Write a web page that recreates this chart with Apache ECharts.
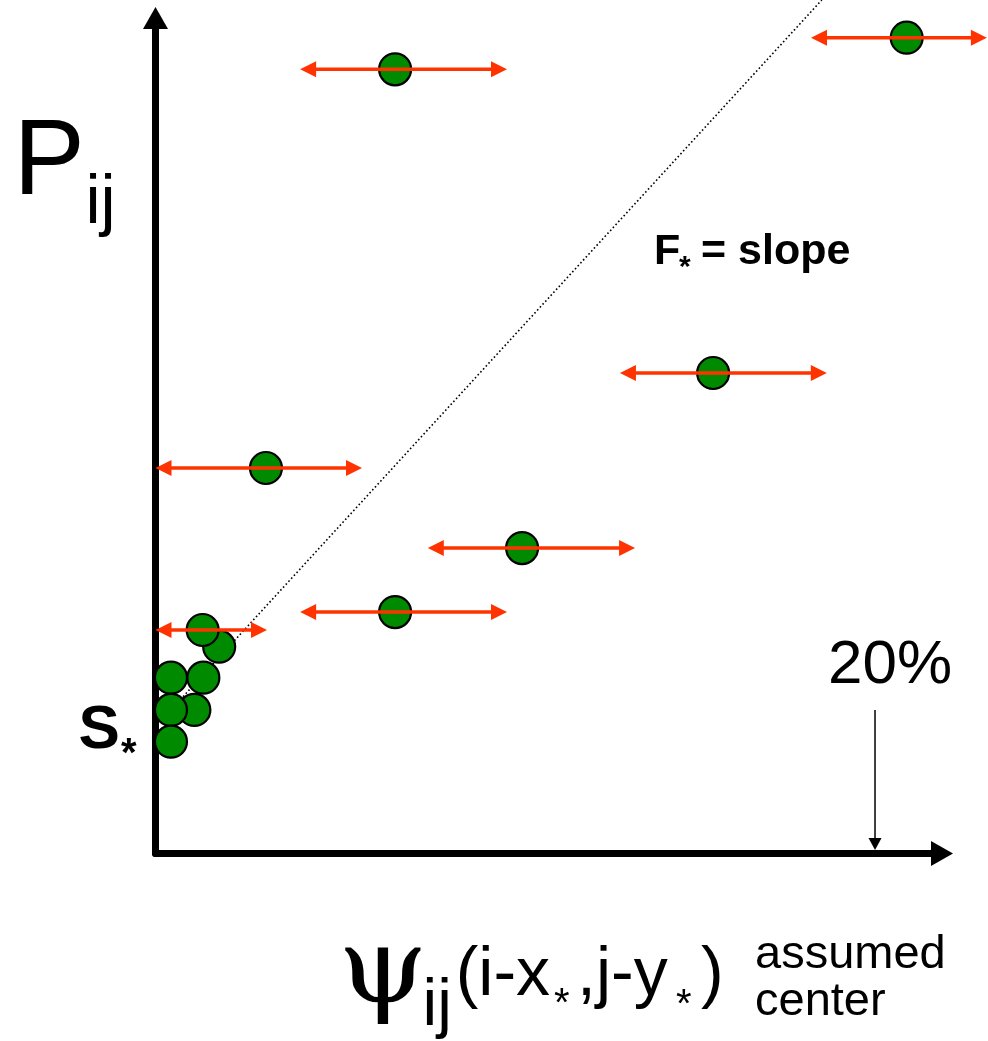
<!DOCTYPE html>
<html><head><meta charset="utf-8">
<script src="https://cdn.jsdelivr.net/npm/echarts@6/dist/echarts.min.js"></script>
<style>html,body{margin:0;padding:0;background:#fff}#c{width:988px;height:1041px}</style>
</head><body><div id="c"></div>
<script>
// ---- data (x in %, y in arbitrary P units) ----
// points carrying horizontal uncertainty arrows
const arrowX    = [6.66, 20.88, 15.50, 3.07, 10.19, 6.66, 1.31];
const arrowY    = [93.86, 97.64, 57.51, 46.14, 36.56, 28.90, 26.75];
const arrowLow  = [4.02, 18.22, 12.91, 0.00, 7.57, 4.02, 0.00];
const arrowHigh = [9.77, 23.11, 18.66, 5.74, 13.33, 9.77, 3.10];
// clustered points near the origin (no arrows)
const clusterX = [1.77, 0.43, 1.33, 1.08, 0.43, 0.43];
const clusterY = [24.75, 21.04, 21.04, 17.18, 17.18, 13.38];
// dotted slope line
const slopeX = [0.54, 18.52];
const slopeY = [17.71, 102.15];
// 20% marker
const markerX = [20];
const markerTop = [17.18];
const markerBottom = [0.42];
const xMax = 21.862, yMax = 100;

const RED = '#ff3300', GREEN = '#008a00';
const SANS = "'Liberation Sans', Arial, Helvetica, sans-serif";
const SERIF = "'DejaVu Serif', 'Liberation Serif', serif";

function renderH(params, api) {
  const y = api.value(1);
  const a = api.coord([api.value(2), y]);
  const b = api.coord([api.value(3), y]);
  const L = 16, W = 8;
  return { type: 'group', children: [
    { type: 'line', shape: { x1: a[0] + L * 0.6, y1: a[1], x2: b[0] - L * 0.6, y2: b[1] }, style: { stroke: RED, lineWidth: 3.6 } },
    { type: 'polygon', shape: { points: [[a[0], a[1]], [a[0] + L, a[1] - W], [a[0] + L, a[1] + W]] }, style: { fill: RED } },
    { type: 'polygon', shape: { points: [[b[0], b[1]], [b[0] - L, b[1] - W], [b[0] - L, b[1] + W]] }, style: { fill: RED } }
  ]};
}
function renderV(params, api) {
  const t = api.coord([api.value(0), api.value(1)]);
  const b = api.coord([api.value(0), api.value(2)]);
  const L = 12, W = 6.5;
  return { type: 'group', children: [
    { type: 'line', shape: { x1: t[0], y1: t[1], x2: b[0], y2: b[1] - L * 0.5 }, style: { stroke: '#000', lineWidth: 1.5 } },
    { type: 'polygon', shape: { points: [[b[0], b[1]], [b[0] - W, b[1] - L], [b[0] + W, b[1] - L]] }, style: { fill: '#000' } }
  ]};
}

function txt(t, x, baseline, size, weight, family, k, sx) {
  family = family || SANS;
  k = (k == null) ? 0.3465 : k;
  return { type: 'text', x: x, y: baseline - k * size, z: 100, scaleX: sx || 1,
    style: { text: t, font: (weight || 'normal') + ' ' + size + 'px ' + family, fill: '#000',
      align: 'left', verticalAlign: 'middle', textAlign: 'left', textVerticalAlign: 'middle' } };
}

const labels = [
  txt('P', 13.5, 202, 107),
  txt('ij', 85.5, 228, 68),
  txt('S', 78.5, 752, 62, 'bold'),
  txt('*', 121, 769, 40, 'bold'),
  txt('F', 654, 267, 43, 'bold'),
  txt('*', 679, 278, 30, 'bold'),
  txt('= slope', 701, 267, 43, 'bold'),
  txt('20%', 828, 687, 62),
  txt('\u03C8', 338, 1012.6, 104, 'normal', SERIF, 0.36, 1.1),
  txt('ij', 422.6, 1030, 66),
  txt('(i-x', 455.7, 1000, 68),
  txt('*', 554, 1019, 40),
  txt(',j-y', 577, 1000, 68),
  txt('*', 676, 1020, 40),
  txt(')', 701, 1000, 68),
  txt('assumed', 755, 971, 47),
  txt('center', 755, 1018, 47)
];

const scatterData = clusterX.map((x, i) => [x, clusterY[i]])
  .concat(arrowX.map((x, i) => [x, arrowY[i]]));

const axisCommon = {
  type: 'value', min: 0,
  axisLine: { show: true, symbol: ['none', 'triangle'], symbolSize: [25, 22], lineStyle: { color: '#000', width: 7 } },
  axisTick: { show: false }, axisLabel: { show: false }, splitLine: { show: false }
};

const chart = echarts.init(document.getElementById('c'), null, { renderer: 'canvas' });
chart.setOption({
  animation: false,
  backgroundColor: '#fff',
  grid: { left: 155.5, right: 46, top: 18, bottom: 187.5, containLabel: false, outerBoundsMode: 'none' },
  xAxis: Object.assign({}, axisCommon, { max: xMax }),
  yAxis: Object.assign({}, axisCommon, { max: yMax }),
  graphic: labels,
  series: [
    { type: 'line', z: 2, clip: false, symbol: 'none', silent: true,
      data: slopeX.map((x, i) => [x, slopeY[i]]),
      lineStyle: { color: '#000', width: 1.6, type: [1.6, 2.4] } },
    { type: 'scatter', z: 3, clip: false, symbol: 'circle', symbolSize: 32, silent: true,
      data: scatterData,
      itemStyle: { color: GREEN, borderColor: '#000', borderWidth: 2.2, opacity: 1 } },
    { type: 'custom', z: 4, clip: false, silent: true, renderItem: renderH,
      encode: { x: [0, 2, 3], y: 1 },
      data: arrowX.map((x, i) => [x, arrowY[i], arrowLow[i], arrowHigh[i]]) },
    { type: 'custom', z: 4, clip: false, silent: true, renderItem: renderV,
      encode: { x: 0, y: [1, 2] },
      data: markerX.map((x, i) => [x, markerTop[i], markerBottom[i]]) }
  ]
});
</script></body></html>
